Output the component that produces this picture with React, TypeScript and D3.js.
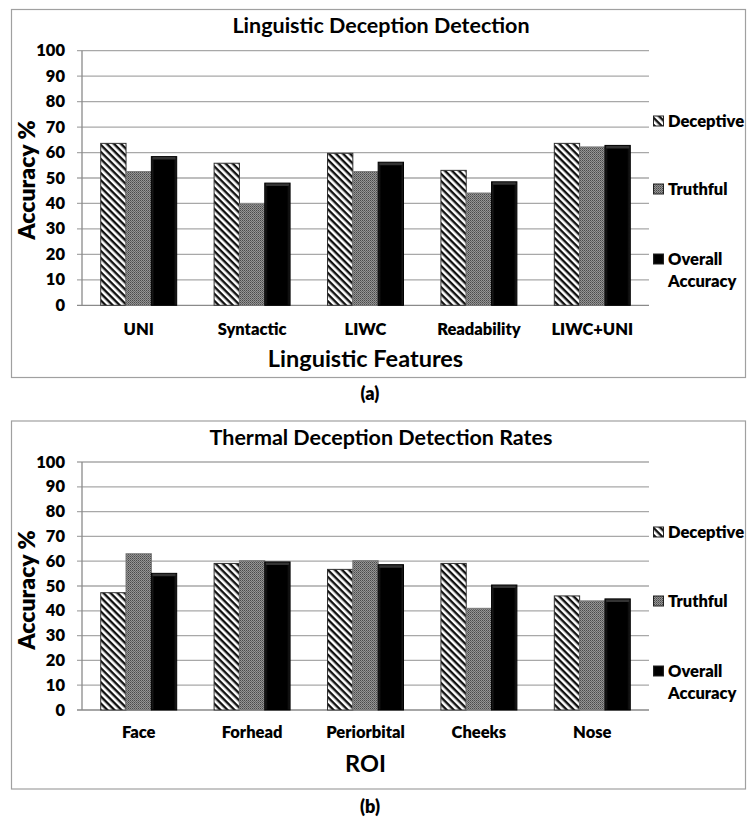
import React from "react";
import * as d3 from "d3";

const seriesNames = ["Deceptive", "Truthful", "Overall Accuracy"];
const yTicks = [0, 10, 20, 30, 40, 50, 60, 70, 80, 90, 100];

const lingCategories = ["UNI", "Syntactic", "LIWC", "Readability", "LIWC+UNI"];
const lingDeceptive = [63.6, 55.8, 59.7, 53.0, 63.6];
const lingTruthful = [52.5, 39.8, 52.5, 44.1, 62.2];
const lingOverall = [58.4, 48.0, 56.2, 48.5, 62.8];

const thermCategories = ["Face", "Forhead", "Periorbital", "Cheeks", "Nose"];
const thermDeceptive = [47.3, 59.1, 56.7, 59.1, 46.0];
const thermTruthful = [63.0, 60.2, 60.2, 41.0, 44.0];
const thermOverall = [55.1, 59.7, 58.6, 50.4, 44.8];

const FONT = "Lato, 'Open Sans', sans-serif";
const W = 800;

type ChartProps = {
  id: string;
  top: number;
  frameH: number;
  plotTop: number;
  plotBottom: number;
  title: string;
  xTitle: string;
  categories: string[];
  series: number[][];
  legendY: number[];
  tickLabelY: number;
  xTitleY: number;
  yTitleY: number;
};

function Chart(p: ChartProps) {
  const left = 82;
  const right = 649;
  const x0 = d3.scaleBand<string>().domain(p.categories).range([left, right]).paddingInner(0.33).paddingOuter(0.165);
  const x1 = d3.scaleBand<number>().domain([0, 1, 2]).range([0, x0.bandwidth()]);
  const y = d3.scaleLinear().domain([0, 100]).range([p.plotBottom, p.plotTop]);
  const fills = [`url(#stripe-${p.id})`, `url(#dots-${p.id})`, `url(#black-${p.id})`];
  return (
    <g>
      <defs>
        <pattern id={`stripe-${p.id}`} width={5} height={5} patternUnits="userSpaceOnUse" patternTransform="rotate(45)">
          <rect width={5} height={5} fill="#fff" />
          <rect width={5} height={2.4} fill="#111" />
        </pattern>
        <pattern id={`dots-${p.id}`} width={2} height={2} patternUnits="userSpaceOnUse">
          <rect width={2} height={2} fill="#959595" />
          <rect width={1} height={1} fill="#4a4a4a" />
          <rect x={1} y={1} width={1} height={1} fill="#666" />
        </pattern>
        <linearGradient id={`black-${p.id}`} x1="0" x2="1" y1="0" y2="0">
          <stop offset="0" stopColor="#222" />
          <stop offset="0.12" stopColor="#000" />
          <stop offset="0.88" stopColor="#000" />
          <stop offset="1" stopColor="#222" />
        </linearGradient>
      </defs>
      <rect x={11.5} y={p.top + 0.5} width={734} height={p.frameH} fill="#fff" stroke="#a0a0a0" strokeWidth={1.2} />
      <text x={381} y={p.top + 24} textAnchor="middle" fontFamily={FONT} fontWeight={700} fontSize={21.5} fill="#000">
        {p.title}
      </text>
      {yTicks.map((t) => (
        <g key={t}>
          <line x1={77} x2={right} y1={y(t)} y2={y(t)} stroke={t === 0 ? "#8a8a8a" : "#a8a8a8"} strokeWidth={1.3} />
          <text x={65} y={y(t) + 5.5} textAnchor="end" fontFamily={FONT} fontWeight={W} fontSize={16.5} fill="#000">
            {t}
          </text>
        </g>
      ))}
      <line x1={left} x2={left} y1={p.plotTop} y2={p.plotBottom} stroke="#8a8a8a" strokeWidth={1.3} />
      {p.categories.map((c, i) => (
        <g key={c}>
          {p.series.map((s, k) => {
            const bx = (x0(c) as number) + (x1(k) as number);
            const by = y(s[i]);
            return (
              <g key={k}>
                <rect
                  x={bx}
                  y={by}
                  width={x1.bandwidth()}
                  height={p.plotBottom - by}
                  fill={fills[k]}
                  stroke={k === 2 ? "#000" : k === 0 ? "#333" : "#777"}
                  strokeWidth={1}
                />
                {k === 2 && (
                  <rect x={bx + 1} y={by + 0.5} width={x1.bandwidth() - 2} height={2.5} fill="#333" rx={1} />
                )}
              </g>
            );
          })}
          <text
            x={(x0(c) as number) + x0.bandwidth() / 2}
            y={p.tickLabelY}
            textAnchor="middle"
            fontFamily={FONT}
            fontWeight={W}
            fontSize={16.5}
            fill="#000"
          >
            {c}
          </text>
        </g>
      ))}
      <text x={(left + right) / 2 + 0} y={p.xTitleY} textAnchor="middle" fontFamily={FONT} fontWeight={700} fontSize={23.5} fill="#000">
        {p.xTitle}
      </text>
      <text
        transform={`translate(35,${p.yTitleY}) rotate(-90)`}
        textAnchor="middle"
        fontFamily={FONT}
        fontWeight={W}
        fontSize={23}
        fill="#000"
      >
        Accuracy %
      </text>
      {seriesNames.map((n, k) => {
        const ly = p.legendY[k];
        const lines = k === 2 ? ["Overall", "Accuracy"] : [n];
        return (
          <g key={n}>
            <rect x={653.5} y={ly - 11} width={10} height={10} fill={fills[k]} stroke="#222" strokeWidth={1} />
            {lines.map((ln, j) => (
              <text key={j} x={668} y={ly + j * 22} fontFamily={FONT} fontWeight={W} fontSize={16.5} fill="#000">
                {ln}
              </text>
            ))}
          </g>
        );
      })}
    </g>
  );
}

export default function App() {
  return (
    <svg width={747} height={820} style={{ position: "absolute", left: 0, top: 0, background: "#fff" }}>
      <rect width={747} height={820} fill="#fff" />
      <Chart
        id="a"
        top={9}
        frameH={368}
        plotTop={50.7}
        plotBottom={305.3}
        title="Linguistic Deception Detection"
        xTitle="Linguistic Features"
        categories={lingCategories}
        series={[lingDeceptive, lingTruthful, lingOverall]}
        legendY={[127, 195, 265]}
        tickLabelY={335}
        xTitleY={367}
        yTitleY={180}
      />
      <text x={370} y={400} textAnchor="middle" fontFamily={FONT} fontWeight={W} fontSize={18} fill="#000">
        (a)
      </text>
      <Chart
        id="b"
        top={420.5}
        frameH={368}
        plotTop={462}
        plotBottom={710}
        title="Thermal Deception Detection Rates"
        xTitle="ROI"
        categories={thermCategories}
        series={[thermDeceptive, thermTruthful, thermOverall]}
        legendY={[538, 607, 677]}
        tickLabelY={738}
        xTitleY={772}
        yTitleY={590}
      />
      <text x={370} y={813} textAnchor="middle" fontFamily={FONT} fontWeight={W} fontSize={18} fill="#000">
        (b)
      </text>
    </svg>
  );
}
